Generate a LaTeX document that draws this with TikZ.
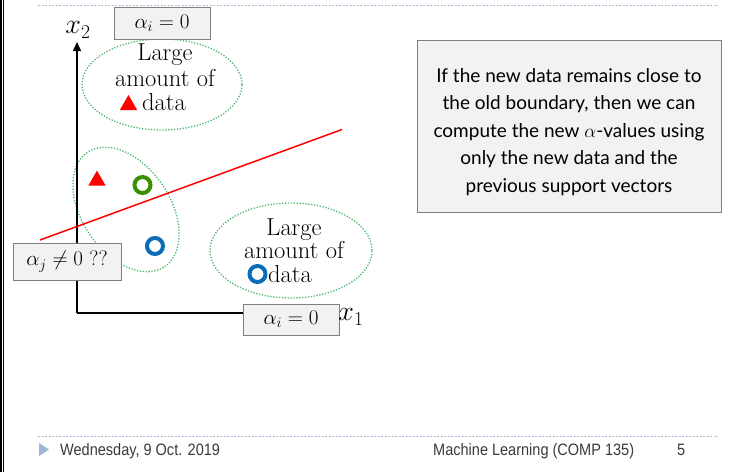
\RequirePackage{fix-cm}
\documentclass[tikz,border=0pt]{standalone}
\usepackage{fontspec}
\usetikzlibrary{shapes.geometric,arrows.meta}
\newfontfamily\notefont{Lato}
\newfontfamily\footfont[FakeStretch=0.88]{Liberation Sans}
\definecolor{boxfill}{HTML}{F2F2F2}
\definecolor{boxline}{HTML}{7F7F7F}
\definecolor{dotgreen}{HTML}{4DB870}
\definecolor{ringgreen}{HTML}{3A9100}
\definecolor{ringblue}{HTML}{0B6DB7}
\definecolor{rulecol}{HTML}{A9BED6}
\definecolor{footgray}{HTML}{3A3A3A}
\definecolor{foottri}{HTML}{9DB8D6}
\begin{document}
\begin{tikzpicture}[x=1pt,y=1pt,
  abox/.style={draw=boxline,fill=boxfill,line width=0.9pt,inner sep=0pt,font=\fontsize{21}{22}\selectfont},
  blob/.style={ellipse,draw=dotgreen,dash pattern=on 1.3pt off 1.6pt,line width=1.3pt,inner sep=0pt},
  ring/.style={circle,draw=#1,line width=4pt,inner sep=0pt,minimum size=16pt},
  redtri/.style={regular polygon,regular polygon sides=3,fill=red,inner sep=0pt,minimum size=20pt},
  words/.style={inner sep=0pt,font=\fontsize{24.5}{25}\selectfont},
  axlabel/.style={inner sep=0pt,font=\fontsize{28}{30}\selectfont},
  foot/.style={inner sep=0pt,anchor=base west,text=footgray,font=\footfont\fontsize{16.5}{18}\selectfont}]
\path[use as bounding box] (0,0) rectangle (748,-472);
\draw[line width=1.2pt] (1,0) -- (1,-472);
\draw[line width=1.2pt] (3.8,0) -- (3.8,-472);
\draw[rulecol,dash pattern=on 2pt off 1.5pt] (38,-5) -- (718,-5);
\draw[rulecol,dash pattern=on 2pt off 1.5pt] (38,-436) -- (718,-436);

\node[blob,minimum width=160pt,minimum height=91pt] (upcloud) at (162,-84.5) {};
\node[blob,minimum width=162pt,minimum height=95pt] (lowcloud) at (291,-250.5) {};
\node[blob,minimum width=138pt,minimum height=88pt,rotate=-56] (svcloud) at (126,-209.5) {};

\coordinate (origin) at (77,-313);
\coordinate (ytip) at (77,-42);
\draw[line width=1.5pt,-{Triangle[length=9pt,width=8pt]}] (origin) -- (ytip);
\draw[red,line width=1.5pt] (40,-240) -- (342,-129.5);

\node[redtri] (uptri) at (128.5,-105) {};
\node[redtri] (svtri) at (97,-180.6) {};
\node[ring=ringgreen] (svgreen) at (142.5,-185) {};
\node[ring=ringblue] (svblue) at (155,-246) {};
\node[ring=ringblue] (lowring) at (257.5,-274) {};

\node[words,anchor=base] (uplarge) at (165,-60) {Large};
\node[words,anchor=base] (upamount) at (165,-86) {amount of};
\node[words,anchor=base west] (updata) at (142,-110) {data};
\node[words,anchor=base] (lowlarge) at (294,-235) {Large};
\node[words,anchor=base] (lowamount) at (294,-258.5) {amount of};
\node[words,anchor=base west] (lowdata) at (268,-282) {data};

\node[abox,minimum width=96pt,minimum height=32pt] (topbox) at (162,-23) {$\alpha_i = 0$};
\node[abox,minimum width=96pt,minimum height=31pt] (xbox) at (291,-319.5) {$\alpha_i = 0$};
\node[abox,minimum width=108pt,minimum height=37pt] (svbox) at (67,-261.5) {$\alpha_j \neq 0$ ??};
\draw[line width=1.5pt] (origin) -- (xbox.west |- origin);
\node[axlabel] (xtwo) at (78,-30) {$x_2$};
\node[axlabel] (xone) at (351,-317) {$x_1$};

\node[abox,minimum width=304pt,minimum height=172pt] (notebox) at (569,-126.5) {};
\node[inner sep=0pt,align=center,font=\notefont\fontsize{19}{27.5}\selectfont] (notetext) at (569,-132)
  {If the new data remains close to\\the old boundary, then we can\\compute the new $\alpha$-values using\\only the new data and the\\previous support vectors};

\fill[foottri] (39,-443) -- (39,-456) -- (49,-449.5) -- cycle;
\node[foot] (date) at (60,-455) {Wednesday, 9 Oct. 2019};
\node[foot] (course) at (433,-455) {Machine Learning (COMP 135)};
\node[foot] (pagenum) at (677,-455) {5};
\end{tikzpicture}
\end{document}
